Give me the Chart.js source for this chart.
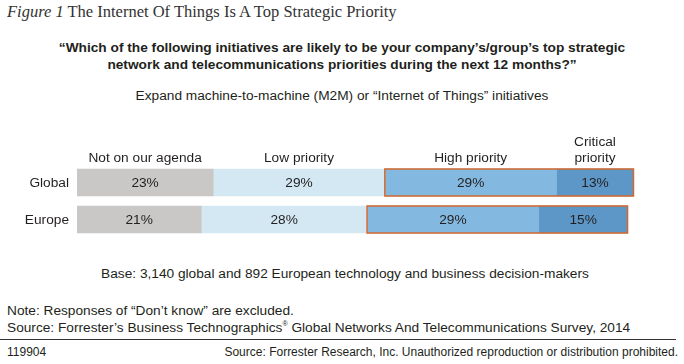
<!DOCTYPE html>
<html>
<head>
<meta charset="utf-8">
<script src="https://cdn.jsdelivr.net/npm/chart.js@4"></script>
<style>
  body { margin:0; background:#fff; font-family:"Liberation Sans", Arial, sans-serif; color:#231f20; }
  #wrap { position:relative; width:684px; height:364px; overflow:hidden; }
  .t { position:absolute; white-space:nowrap; }
  #title { left:7px; top:2px; font-family:"Liberation Serif", serif; font-size:16.5px; color:#333; }
  #title i { font-style:italic; }
  #q { left:0; width:684px; top:39px; text-align:center; font-weight:bold; font-size:13.7px; line-height:17px; }
  #sub { left:0; width:684px; top:88px; text-align:center; font-size:13.7px; }
  #base { left:0; width:690px; top:266px; text-align:center; font-size:13.7px; }
  #note { left:7px; top:303px; font-size:13.7px; }
  #src { left:7px; top:320px; font-size:13.7px; }
  #rule { position:absolute; left:0; top:339px; width:676px; height:1px; background:#333; }
  #id { left:7px; top:345px; font-size:12px; }
  #copy { right:6px; top:345px; font-size:12px; }
  #chartBox { position:absolute; left:0; top:130px; width:684px; height:110px; }
</style>
</head>
<body>
<div id="wrap">
  <div class="t" id="title"><i>Figure 1</i> The Internet Of Things Is A Top Strategic Priority</div>
  <div class="t" id="q">“Which of the following initiatives are likely to be your company’s/group’s top strategic<br>network and telecommunications priorities during the next 12 months?”</div>
  <div class="t" id="sub">Expand machine-to-machine (M2M) or “Internet of Things” initiatives</div>
  <div id="chartBox"><canvas id="chart" width="684" height="110"></canvas></div>
  <div class="t" id="base">Base: 3,140 global and 892 European technology and business decision-makers</div>
  <div class="t" id="note">Note: Responses of “Don’t know” are excluded.</div>
  <div class="t" id="src">Source: Forrester’s Business Technographics<sup style="font-size:7px">®</sup> Global Networks And Telecommunications Survey, 2014</div>
  <div id="rule"></div>
  <div class="t" id="id">119904</div>
  <div class="t" id="copy">Source: Forrester Research, Inc. Unauthorized reproduction or distribution prohibited.</div>
</div>
<script>
// data
const regions = ["Global", "Europe"];
const levels = ["Not on our agenda", "Low priority", "High priority", "Critical priority"];
const notOnAgenda = [23, 21];
const lowPriority = [29, 28];
const highPriority = [29, 29];
const criticalPriority = [13, 15];
const colors = ["#c9c8c6", "#d3e8f3", "#83b9e0", "#5d97c8"];

const series = [notOnAgenda, lowPriority, highPriority, criticalPriority];

// labels in segments, header labels, region labels, orange outline
const decor = {
  id: "decor",
  afterDatasetsDraw(chart) {
    const ctx = chart.ctx;
    const area = chart.chartArea;
    ctx.save();
    ctx.font = "13.7px 'Liberation Sans', Arial, sans-serif";
    ctx.fillStyle = "#231f20";
    ctx.textBaseline = "middle";
    ctx.textAlign = "center";
    chart.data.datasets.forEach((ds, i) => {
      chart.getDatasetMeta(i).data.forEach((bar, j) => {
        const cx = (bar.x + bar.base) / 2;
        ctx.fillText(ds.data[j] + "%", cx, bar.y + 1);
      });
    });
    // region names
    ctx.textAlign = "right";
    regions.forEach((r, j) => {
      const bar = chart.getDatasetMeta(0).data[j];
      ctx.fillText(r, area.left - 8, bar.y + 1);
    });
    // column headers above Global bars
    ctx.textAlign = "center";
    ctx.textBaseline = "alphabetic";
    levels.forEach((lv, i) => {
      const bar = chart.getDatasetMeta(i).data[0];
      const cx = (bar.x + bar.base) / 2;
      const top = bar.y - bar.height / 2;
      if (lv === "Critical priority") {
        ctx.fillText("Critical", cx, top - 23);
        ctx.fillText("priority", cx, top - 7);
      } else {
        ctx.fillText(lv, cx, top - 7);
      }
    });
    // orange box around high + critical
    ctx.strokeStyle = "#d4682c";
    ctx.lineWidth = 1.5;
    regions.forEach((r, j) => {
      const hi = chart.getDatasetMeta(2).data[j];
      const cr = chart.getDatasetMeta(3).data[j];
      const h = hi.height;
      ctx.strokeRect(hi.base, hi.y - h / 2, cr.x - hi.base, h);
    });
    ctx.restore();
  }
};

new Chart(document.getElementById("chart"), {
  type: "bar",
  data: {
    labels: regions,
    datasets: series.map((s, i) => ({
      label: levels[i],
      data: s,
      backgroundColor: colors[i],
      borderWidth: 0,
      barThickness: 27
    }))
  },
  options: {
    indexAxis: "y",
    responsive: false,
    animation: false,
    layout: { padding: { left: 77, right: 15, top: 34, bottom: 2 } },
    scales: {
      x: { stacked: true, min: 0, max: 100, display: false },
      y: { stacked: true, display: false }
    },
    plugins: { legend: { display: false }, tooltip: { enabled: false } }
  },
  plugins: [decor]
});
</script>
</body>
</html>
